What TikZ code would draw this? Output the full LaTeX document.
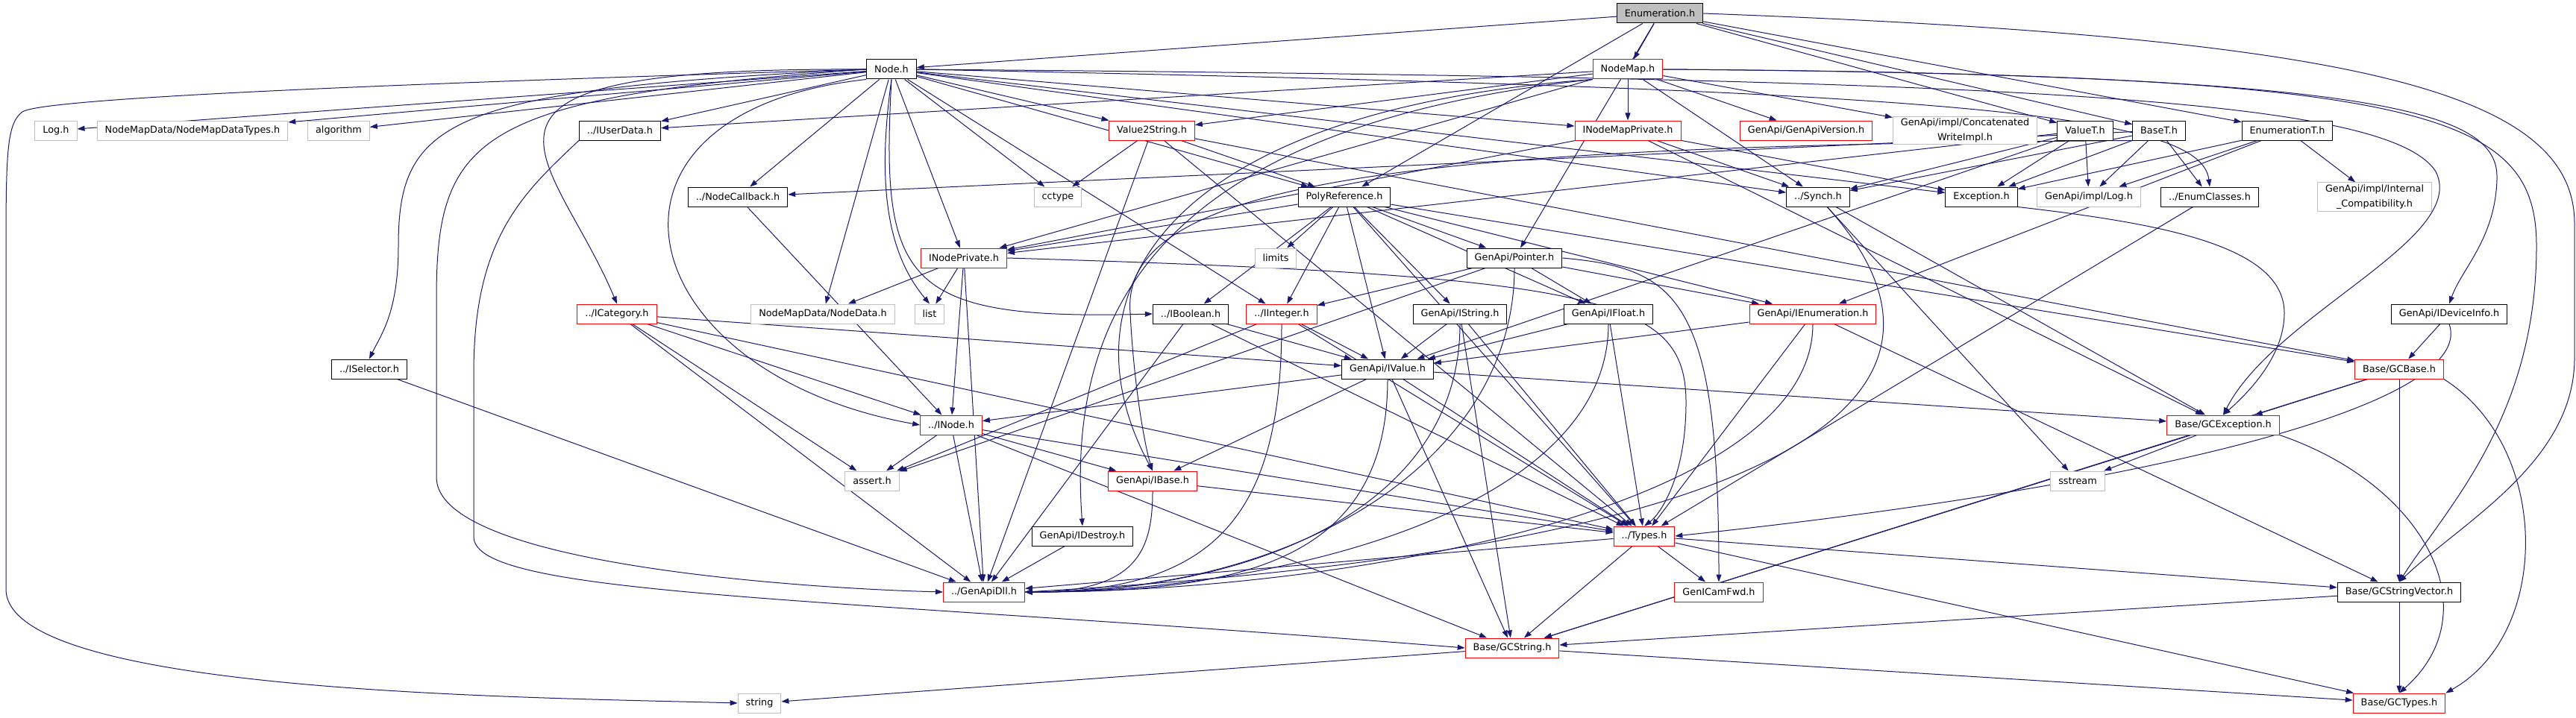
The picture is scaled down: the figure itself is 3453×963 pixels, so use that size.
\documentclass[tikz,border=0pt]{standalone}
\usepackage{fontspec}
\usepackage{tikz}
\usetikzlibrary{arrows,arrows.meta,shapes}
\newfontfamily\hdrfont{DejaVu Sans}
\definecolor{midnight}{HTML}{191970}
\definecolor{sysgrey}{HTML}{BFBFBF}
\pgfdeclarelayer{background}
\pgfsetlayers{background,main}
\tikzstyle{docfile}=[draw=black,fill=white,line width=1pt,inner xsep=10.5pt,inner ysep=3pt,minimum height=26pt,align=center,font=\hdrfont\fontsize{12.8pt}{15.5pt}\selectfont]
\tikzstyle{redfile}=[docfile,draw=red]
\tikzstyle{sysfile}=[docfile,draw=sysgrey]
\tikzstyle{rootfile}=[docfile,fill=sysgrey]
\tikzstyle{edge}=[draw,midnight,line width=1pt,-{Triangle[length=10pt,width=7pt]}]

\begin{document}
\begin{tikzpicture}[x=1pt,y=-1pt]
    \useasboundingbox (0,0) rectangle (3453,963);
    % The included file at the top
    \node[rootfile] (enumh) at (2225,18) {Enumeration.h};
    % Then the documented headers
    \foreach \pos/\name/\txt in {{(1195,93)/nodeh/{Node.h}}, {(831,175)/iuserdata/{../IUserData.h}},
        {(2795,175)/valuet/{ValueT.h}}, {(2894,175)/baset/{BaseT.h}}, {(3066,175)/enumt/{EnumerationT.h}},
        {(989,264)/nodecb/{../NodeCallback.h}}, {(1802,264)/polyref/{PolyReference.h}},
        {(2437,264)/synch/{../Synch.h}}, {(2656,264)/exception/{Exception.h}},
        {(2962,264)/enumclasses/{../EnumClasses.h}}, {(2030,346)/pointer/{GenApi/Pointer.h}},
        {(1596,421)/iboolean/{../IBoolean.h}}, {(1957,421)/istring/{GenApi/IString.h}},
        {(2156,421)/ifloat/{GenApi/IFloat.h}}, {(3283,421)/idevinfo/{GenApi/IDeviceInfo.h}},
        {(495,495)/iselector/{../ISelector.h}}, {(1860,495)/ivalue/{GenApi/IValue.h}},
        {(1451,719)/idestroy/{GenApi/IDestroy.h}}, {(3216,794)/gcstrvec/{Base/GCStringVector.h}}}
        \node[docfile] (\name) at \pos {\txt};
    % Headers whose graph is cut off
    \foreach \pos/\name/\txt in {{(2182,93)/nodemap/{NodeMap.h}}, {(1544,175)/valuestr/{Value2String.h}},
        {(2182,175)/inmpriv/{INodeMapPrivate.h}}, {(2421,175)/apiversion/{GenApi/GenApiVersion.h}},
        {(1292,346)/inodepriv/{INodePrivate.h}}, {(827,421)/icategory/{../ICategory.h}},
        {(1718,421)/iinteger/{../IInteger.h}}, {(2430,421)/ienum/{GenApi/IEnumeration.h}},
        {(3216,495)/gcbase/{Base/GCBase.h}}, {(1275,570)/inode/{../INode.h}},
        {(2980,570)/gcexception/{Base/GCException.h}}, {(1545,645)/ibase/{GenApi/IBase.h}},
        {(2204,719)/types/{../Types.h}}, {(1319,794)/genapidll/{../GenApiDll.h}},
        {(2304,794)/gencamfwd/{GenICamFwd.h}}, {(2027,869)/gcstring/{Base/GCString.h}},
        {(3216,943)/gctypes/{Base/GCTypes.h}}}
        \node[redfile] (\name) at \pos {\txt};
    % System and undocumented headers
    \foreach \pos/\name/\txt in {{(75,175)/logh/{Log.h}}, {(258,175)/nmdtypes/{NodeMapData/NodeMapDataTypes.h}},
        {(454,175)/algorithm/{algorithm}}, {(2634,175)/concat/{GenApi/impl/Concatenated\\[4pt]WriteImpl.h}},
        {(1418,264)/cctype/{cctype}}, {(2800,264)/impllog/{GenApi/impl/Log.h}},
        {(3183,264)/compat/{GenApi/impl/Internal\\[4pt]\_Compatibility.h}}, {(1710,346)/limits/{limits}},
        {(1103,421)/nodedata/{NodeMapData/NodeData.h}}, {(1246,421)/list/{list}},
        {(1169,645)/asserth/{assert.h}}, {(2785,645)/sstream/{sstream}}, {(1018,943)/string/{string}}}
        \node[sysfile] (\name) at \pos {\txt};
    \begin{pgfonlayer}{background}
    % Connect headers with include edges
    \foreach \source/\dest in {enumh/nodeh, enumh/nodemap, enumh/polyref, enumh/pointer, enumh/valuet, enumh/baset, enumh/enumt,
        nodeh/logh, nodeh/nmdtypes, nodeh/algorithm, nodeh/iuserdata, nodeh/nodecb,
        nodeh/nodedata, nodeh/inodepriv, nodeh/cctype, nodeh/valuestr, nodeh/polyref, nodeh/inmpriv,
        nodeh/iinteger, nodeh/synch, nodeh/exception,
        nodemap/iuserdata, nodemap/valuestr, nodemap/inodepriv, nodemap/inmpriv, nodemap/apiversion, nodemap/concat,
        nodemap/synch,
        valuestr/cctype, valuestr/polyref, valuestr/genapidll, valuestr/types, valuestr/gcbase,
        inmpriv/synch, inmpriv/exception, inmpriv/inodepriv, inmpriv/gcexception,
        valuet/inodepriv, valuet/synch, valuet/impllog, valuet/exception, valuet/ivalue,
        baset/nodecb, baset/synch, baset/exception, baset/impllog, baset/enumclasses,
        enumt/exception, enumt/impllog, enumt/compat, enumt/ienum,
        polyref/inodepriv, polyref/limits, polyref/iboolean, polyref/iinteger, polyref/ivalue, polyref/istring,
        polyref/pointer, polyref/ifloat, polyref/ienum, polyref/gcbase, polyref/types,
        inodepriv/nodedata, inodepriv/list, inodepriv/inode, inodepriv/genapidll,
        icategory/genapidll, icategory/asserth, icategory/ivalue, icategory/inode, icategory/types,
        iselector/genapidll, nodecb/inode,
        pointer/iinteger, pointer/ifloat, pointer/asserth, pointer/ienum,
        iboolean/genapidll, iboolean/ivalue, iboolean/types,
        iinteger/asserth, iinteger/ivalue, iinteger/types,
        istring/ivalue, istring/types, istring/gcstring,
        ifloat/ivalue, ifloat/types,
        ienum/ivalue, ienum/types, ienum/gcstrvec, idevinfo/gcbase,
        ivalue/inode, ivalue/ibase, ivalue/types, ivalue/gcstring, ivalue/gcexception,
        inode/asserth, inode/gcstring, inode/genapidll, inode/types, inode/ibase,
        ibase/types, idestroy/genapidll, enumclasses/types, synch/gcexception, synch/sstream,
        gcbase/gcexception, gcbase/gcstring, gcbase/gcstrvec, gcexception/sstream, gcexception/gcstring,
        types/genapidll, types/gcstring, types/gencamfwd, types/gcstrvec, types/gctypes,
        gcstrvec/gcstring, gcstrvec/gctypes, gcstring/string, gcstring/gctypes}
        \path[edge] (\source) -- (\dest);
    % Edges that come into ../GenApiDll.h from the right, below the others
    \foreach \source/\bend in {iinteger/260, istring/300, ifloat/340, ivalue/280, pointer/380, ienum/420}
        \path[edge] (\source.south) .. controls +(0,250) and +(\bend,0) .. (genapidll.east);
    \path[edge] (ibase.south) .. controls +(0,80) and +(150,0) .. (genapidll.east);
    % Long edges that go round the graph
    \path[edge] (nodeh.west) .. controls (600,110) and (60,130) .. (30,150) .. controls (10,165) and (8,200) .. (8,330) -- (8,790) .. controls (8,930) and (700,935) .. (string.west);
    \path[edge] (nodeh.west) .. controls (600,120) and (534,160) .. (534,330) .. controls (534,420) and (510,450) .. (iselector.north);
    \path[edge] (nodeh.west) .. controls (640,130) and (585,180) .. (585,400) -- (585,640) .. controls (585,760) and (1100,790) .. (genapidll.west);
    \path[edge] (nodeh.west) .. controls (550,90) and (740,200) .. (icategory.north);
    \path[edge] (nodeh.south west) .. controls (760,150) and (840,500) .. (inode.west);
    \path[edge] (nodeh.south) .. controls (1175,250) and (1190,340) .. (list.north);
    \path[edge] (nodeh.south) .. controls (1180,380) and (1210,430) .. (iboolean.west);
    \path[edge] (iuserdata.south west) .. controls (700,260) and (635,320) .. (635,500) -- (635,720) .. controls (635,800) and (1100,800) .. (gcstring.west);
    \path[edge] (nodeh.east) .. controls (2600,120) and (2950,150) .. (enumclasses.north);
    \path[edge] (nodeh.east) .. controls (2700,105) and (3200,130) .. (3265,230) .. controls (3310,320) and (3050,420) .. (gcexception.north);
    \path[edge] (nodemap.south west) .. controls (1550,170) and (1430,420) .. (idestroy.north);
    \path[edge] (nodemap.south west) .. controls (1550,150) and (1420,400) .. (ibase.north);
    \path[edge] (baset.south west) .. controls (1900,195) and (1500,240) .. (1515,420) .. controls (1520,520) and (1535,600) .. (ibase.north);
    \path[edge] (enumh.east) .. controls (3150,50) and (3451,120) .. (3451,300) -- (3451,480) .. controls (3451,620) and (3300,700) .. (gcstrvec.north);
    \path[edge] (nodemap.east) .. controls (3250,100) and (3400,150) .. (3400,330) .. controls (3400,560) and (3280,680) .. (gcstrvec.north);
    \path[edge] (nodemap.east) .. controls (3200,100) and (3350,150) .. (3347,240) .. controls (3345,320) and (3300,360) .. (idevinfo.north);
    \path[edge] (inodepriv.east) .. controls (2150,370) and (2260,400) .. (2260,540) .. controls (2260,640) and (2225,690) .. (types.north);
    \path[edge] (synch) .. controls (2650,500) and (2500,730) .. (genapidll.east);
    \path[edge] (exception.south east) .. controls (2900,300) and (3062,330) .. (3062,420) .. controls (3062,480) and (3010,530) .. (gcexception.north);
    \path[edge] (pointer.east) .. controls (2250,360) and (2304,400) .. (gencamfwd.north);
    \path[edge] (idevinfo.south) .. controls (3320,540) and (2900,650) .. (types.east);
    \path[edge] (gcbase.south east) .. controls (3420,600) and (3420,850) .. (gctypes.north east);
    \path[edge] (gcexception.south east) .. controls (3250,650) and (3340,820) .. (gctypes.north);
    \end{pgfonlayer}
\end{tikzpicture}
\end{document}
